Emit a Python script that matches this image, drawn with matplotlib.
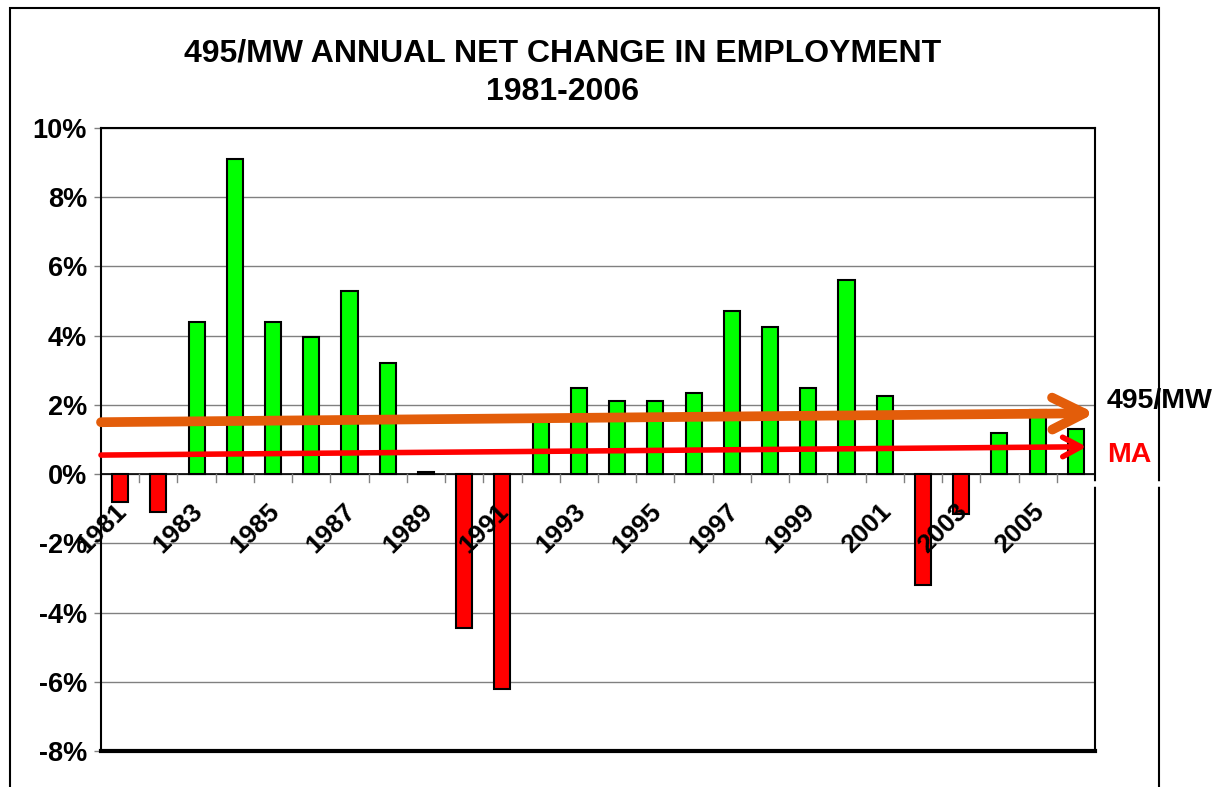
import matplotlib
matplotlib.use('Agg')
import matplotlib.pyplot as plt
import numpy as np
from matplotlib.patches import Rectangle

# values (percent)
years = list(range(1981, 2007))
change = [-0.8, -1.1, 4.4, 9.1, 4.4, 3.95, 5.3, 3.2, 0.05, -4.45,
          -6.2, 1.6, 2.5, 2.1, 2.1, 2.35, 4.7, 4.25, 2.5, 5.6,
          2.25, -3.2, -1.15, 1.2, 1.85, 1.3]
trend_495 = [1.50, 1.76]   # start / end of the 495/MW trend arrow
trend_ma = [0.55, 0.79]    # start / end of the MA trend arrow
yticks = [-8, -6, -4, -2, 0, 2, 4, 6, 8, 10]

plt.rcParams['font.family'] = ['Liberation Sans', 'DejaVu Sans']
plt.rcParams['font.weight'] = 'bold'

fig = plt.figure(figsize=(12.22, 7.87), dpi=100)
ax = fig.add_axes([101 / 1222, 1 - 751 / 787, 994 / 1222, 623 / 787])

x = np.arange(len(years))
colors = ['#00FF00' if v >= 0 else '#FF0000' for v in change]
ax.bar(x, change, width=0.42, color=colors, edgecolor='black', linewidth=1.5, zorder=3)

ax.set_xlim(-0.5, len(years) - 0.5)
ax.set_ylim(-8, 10)
ax.set_yticks(yticks)
ax.set_yticklabels([f'{t}%' for t in yticks], fontsize=19.5, fontweight='bold')
ax.tick_params(axis='y', length=5, width=1, pad=5, color='#808080')
ax.yaxis.grid(True, color='#808080', linewidth=1, zorder=0)
ax.set_axisbelow(True)

# x axis sits on the zero line, minor ticks between categories
ax.spines['bottom'].set_visible(False)
ax.axhline(0, color='black', linewidth=1.2, zorder=2)
ax.set_xticks([])
for b in np.arange(0.5, len(years) - 0.5, 1):
    ax.plot([b, b], [0, -0.22], color='#808080', linewidth=1, zorder=2)
for i, yr in enumerate(years):
    if yr % 2 == 1:
        ax.text(i - 0.15, -0.72, str(yr), rotation=45, rotation_mode='anchor',
                ha='right', va='top', fontsize=19, fontweight='bold', zorder=4)
ax.plot([-0.5, len(years) - 0.5], [-8, -8], color='black', linewidth=3, zorder=5, clip_on=False)
for s in ['left', 'right', 'top']:
    ax.spines[s].set_linewidth(1.5)
    ax.spines[s].set_color('black')

# trend arrows
ax.annotate('', xy=(len(years) - 0.5, trend_495[1]), xytext=(-0.5, trend_495[0]),
            arrowprops=dict(arrowstyle='->,head_length=2.3,head_width=1.15',
                            color='#E35D0A', linewidth=7, shrinkA=0, shrinkB=0),
            zorder=6, annotation_clip=False)
ax.annotate('', xy=(len(years) - 0.72, trend_ma[1]), xytext=(-0.5, trend_ma[0]),
            arrowprops=dict(arrowstyle='->,head_length=1.3,head_width=0.7',
                            color='#FF0000', linewidth=4, shrinkA=0, shrinkB=0),
            zorder=6, annotation_clip=False)
ax.text(len(years) - 0.2, 2.1, '495/MW', fontsize=20.5, fontweight='bold',
        color='black', ha='left', va='center', clip_on=False)
ax.text(len(years) - 0.18, 0.55, 'MA', fontsize=20.5, fontweight='bold',
        color='#FF0000', ha='left', va='center', clip_on=False)

fig.text(563 / 1222, 1 - 54 / 787, '495/MW ANNUAL NET CHANGE IN EMPLOYMENT',
         fontsize=23, fontweight='bold', ha='center', va='center')
fig.text(563 / 1222, 1 - 92 / 787, '1981-2006',
         fontsize=23, fontweight='bold', ha='center', va='center')

# outer chart border
fig.patches.append(Rectangle((10 / 1222, -0.05), 1149 / 1222, 1 - 8 / 787 + 0.05,
                             transform=fig.transFigure, fill=False,
                             edgecolor='black', linewidth=1.5))
# small white break across the right edges just below zero
fig.lines.append(plt.Line2D([1090 / 1222, 1165 / 1222], [1 - 484 / 787, 1 - 484 / 787],
                            transform=fig.transFigure, color='white', linewidth=4))

fig.savefig('out.png', dpi=100, facecolor='white')
